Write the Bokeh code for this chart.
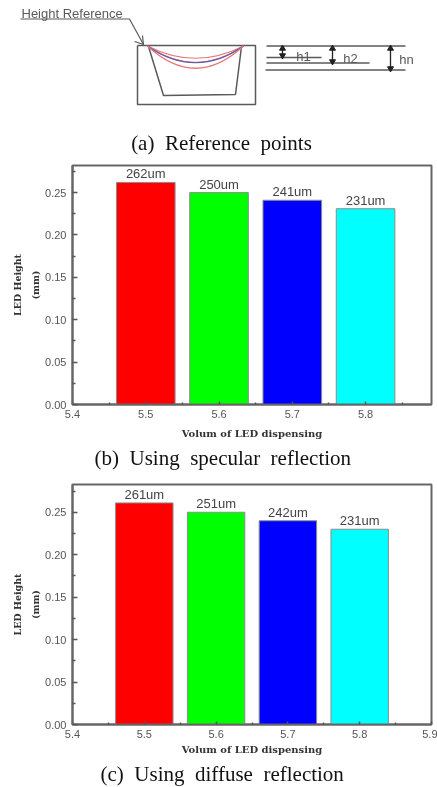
from bokeh.plotting import figure
from bokeh.layouts import column
from bokeh.models import Range1d, FixedTicker, NumeralTickFormatter, Label, Title
from bokeh.core.properties import value
from bokeh.embed import file_html
from bokeh.resources import INLINE

# ---- chart data
volumes = [5.5, 5.6, 5.7, 5.8]
colors = ["#ff0000", "#00ff00", "#0000ff", "#00ffff"]
heights_b = [0.262, 0.250, 0.241, 0.231]
labels_b = ["262um", "250um", "241um", "231um"]
heights_c = [0.261, 0.250, 0.240, 0.230]
labels_c = ["261um", "251um", "242um", "231um"]
y_ticks = [0.0, 0.05, 0.10, 0.15, 0.20, 0.25]
y_minor = [0.025, 0.075, 0.125, 0.175, 0.225, 0.275]
x_minor = [5.45, 5.55, 5.65, 5.75, 5.85]
x_ticks_b = [5.4, 5.5, 5.6, 5.7, 5.8]
x_ticks_c = [5.4, 5.5, 5.6, 5.7, 5.8, 5.9]
x_title = "Volum of LED dispensing"
y_title = "LED Height\n(mm)"
caption_a = "(a)\u00a0 Reference\u00a0 points"
caption_b = "(b)\u00a0 Using\u00a0 specular\u00a0 reflection"
caption_c = "(c)\u00a0 Using\u00a0 diffuse\u00a0 reflection"

# ---- diagram (a) geometry
GRAY = "#5a5a5a"
box_x = [137, 255, 255, 137, 137]
box_y = [45, 45, 104, 104, 45]
cup_x = [148, 163, 235, 241]
cup_y = [46, 95, 94, 46]
leader_x = [20, 129, 143]
leader_y = [18.5, 18.5, 44]
barb_x = [134, 143, 142]
barb_y = [41, 44, 35]
arc_cy = [70, 78, 79, 90]
arc_col = ["#e8767a", "#e8767a", "#5a5aa8", "#e8767a"]
ref_rows = [(266, 405, 45.5), (266, 321, 57), (266, 369, 62.5), (265, 405, 69.5)]
arrows = [(282, 47, 56), (332, 47, 62), (390, 47, 69)]
dim_labels = [("h1", 303, 56), ("h2", 350, 58), ("hn", 406, 59)]
SOFT = {"filter": "blur(0.5px)"}

def diagram():
    p = figure(width=437, height=158, output_backend="svg", toolbar_location=None,
               x_range=Range1d(0, 437), y_range=Range1d(158, 0),
               x_axis_type=None, y_axis_type=None, min_border=0, outline_line_color=None,
               frame_align=False, styles=SOFT)
    p.grid.visible = False
    p.line(box_x, box_y, line_color=GRAY, line_width=1.5)
    p.line(cup_x, cup_y, line_color=GRAY, line_width=1.5)
    p.line(leader_x, leader_y, line_color=GRAY, line_width=1.2)
    p.line(barb_x, barb_y, line_color=GRAY, line_width=1.2)
    for cy, col in zip(arc_cy, arc_col):
        p.quadratic(x0=[147], y0=[45.5], x1=[243], y1=[45.5], cx=[195], cy=[cy], line_color=col, line_width=1.2)
    for x0, x1, y in ref_rows:
        p.line([x0, x1], [y, y], line_color=GRAY, line_width=1.3)
    for x, y0, y1 in arrows:
        p.line([x, x], [y0, y1], line_color="#222222", line_width=1.3)
        p.scatter([x], [y0 + 1], marker="triangle", size=6, color="#222222")
        p.scatter([x], [y1 - 1], marker="inverted_triangle", size=6, color="#222222")
    p.text([21], [13], text=["Height Reference"], text_font=value("Liberation Sans"), text_font_size="13px",
           text_color=GRAY, text_align="left", text_baseline="middle")
    for t, x, y in dim_labels:
        p.text([x], [y], text=[t], text_font=value("Liberation Sans"), text_font_size="13px",
               text_color=GRAY, text_align="center", text_baseline="middle")
    p.add_layout(Label(x=221, y=4, x_units="screen", y_units="screen", text=caption_a, text_align="center",
                       text_font="Liberation Serif", text_font_size="21px", text_color="#111111"))
    return p

def bars(heights, labels, xticks, xmax, ymax, frame_h, border_top, border_bottom, caption, total_h, title_off, cap_standoff, cap_offset):
    p = figure(width=437, height=total_h, output_backend="svg", toolbar_location=None,
               x_range=Range1d(5.4, xmax), y_range=Range1d(0, ymax),
               frame_width=359, frame_height=frame_h, frame_align=False,
               min_border_left=72, min_border_right=6, min_border_top=border_top, min_border_bottom=border_bottom,
               outline_line_color="#666666", outline_line_width=2, styles=SOFT)
    p.grid.visible = False
    p.vbar(x=volumes, top=heights, width=0.08, bottom=0, fill_color=colors, line_color="#8c8c8c", line_width=1)
    p.text(x=volumes, y=heights, text=labels, y_offset=-1, text_align="center", text_baseline="bottom",
           text_font=value("Liberation Sans"), text_font_size="13px", text_color="#444444")
    for ax in (p.xaxis[0], p.yaxis[0]):
        ax.axis_line_color = "#666666"
        ax.axis_line_width = 2
        ax.major_tick_line_color = "#555555"
        ax.minor_tick_line_color = "#555555"
        ax.major_tick_line_width = 1.5
        ax.minor_tick_line_width = 1.5
        ax.major_tick_out = 0
        ax.minor_tick_out = 0
        ax.major_label_text_font = "Liberation Sans"
        ax.major_label_text_font_size = "11px"
        ax.major_label_text_color = "#555555"
        ax.axis_label_text_font = "DejaVu Serif"
        ax.axis_label_text_font_style = "bold"
        ax.axis_label_text_color = "#333333"
    p.xaxis[0].axis_label_text_font_size = "10px"
    p.yaxis[0].axis_label_text_font_size = "9.5px"
    p.yaxis[0].axis_label_text_line_height = 1.6
    p.xaxis[0].major_tick_in = 3
    p.xaxis[0].minor_tick_in = 2
    p.yaxis[0].major_tick_in = 5
    p.yaxis[0].minor_tick_in = 3
    p.xaxis[0].ticker = FixedTicker(ticks=xticks, minor_ticks=x_minor)
    p.yaxis[0].ticker = FixedTicker(ticks=y_ticks, minor_ticks=y_minor)
    p.xaxis[0].formatter = NumeralTickFormatter(format="0.0")
    p.yaxis[0].formatter = NumeralTickFormatter(format="0.00")
    p.xaxis[0].major_label_standoff = 5
    p.yaxis[0].major_label_standoff = 6
    p.xaxis[0].axis_label = x_title
    p.yaxis[0].axis_label = y_title
    p.xaxis[0].axis_label_standoff = title_off
    p.yaxis[0].axis_label_standoff = 1
    p.add_layout(Title(text=caption, align="left", offset=cap_offset, standoff=cap_standoff,
                       text_font="Liberation Serif", text_font_size="21px", text_font_style="normal",
                       text_color="#111111"), "below")
    return p

pa = diagram()
pb = bars(heights_b, labels_b, x_ticks_b, 5.89, 0.282, 239, 7, 71, caption_b, 317, 7, 5, 22)
pc = bars(heights_c, labels_c, x_ticks_c, 5.9, 0.2827, 240, 9, 63, caption_c, 312, 3, 5, 28)
layout = column(pa, pb, pc, spacing=0)
open("out.html", "w").write(file_html(layout, INLINE))
